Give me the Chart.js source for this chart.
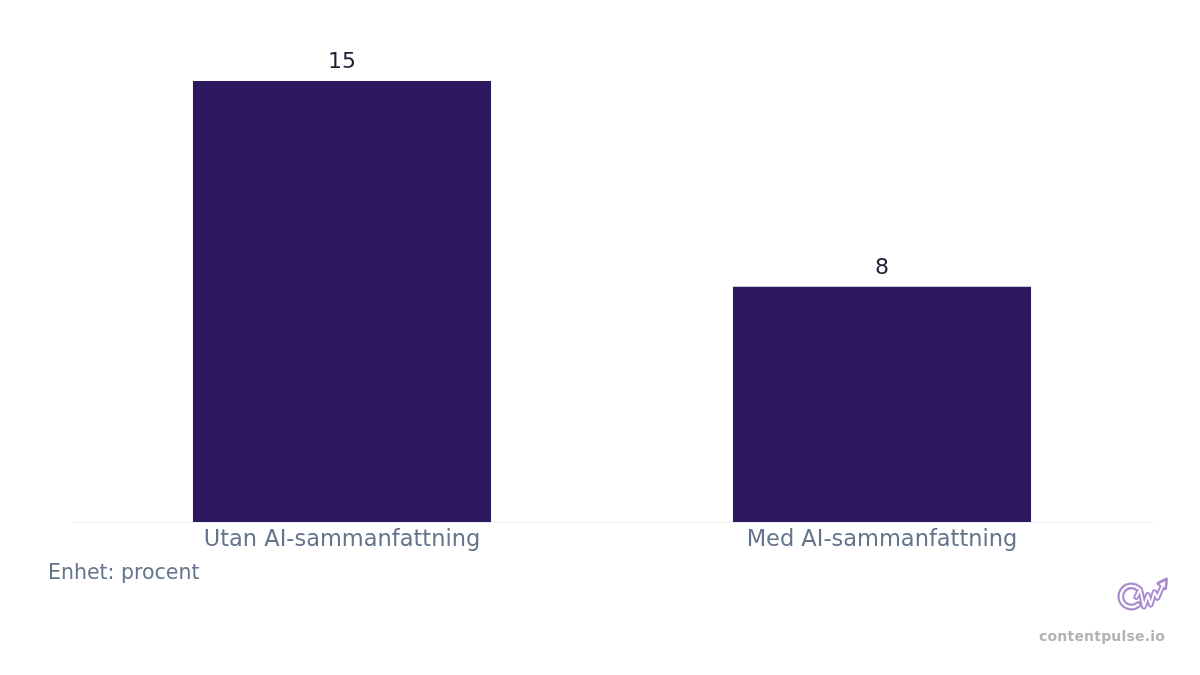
<!DOCTYPE html>
<html>
<head>
<meta charset="utf-8">
<script src="https://cdn.jsdelivr.net/npm/chart.js@4/dist/chart.umd.min.js"></script>
<style>
  html, body { margin: 0; padding: 0; background: #ffffff; }
  #wrap { position: relative; width: 1200px; height: 675px; overflow: hidden; font-family: "DejaVu Sans", sans-serif; }
  #c { position: absolute; left: 0; top: 0; }
  #unit { position: absolute; left: 48px; top: 560px; font-size: 20.5px; color: #64748b; }
  #brand { position: absolute; left: 1039px; top: 628px; font-size: 14px; font-weight: bold; color: #b3b3b3; letter-spacing: 0.2px; }
  #logo { position: absolute; left: 1115px; top: 575px; }
</style>
</head>
<body>
<div id="wrap">
  <canvas id="c" width="1200" height="675"></canvas>
  <div id="unit">Enhet: procent</div>
  <svg id="logo" width="54" height="42" viewBox="0 0 56 42">
    <g fill="none" stroke-linecap="round" stroke-linejoin="round">
      <path d="M24 13 A11 11 0 1 0 24 30" stroke="#a98bd0" stroke-width="7"/>
      <polyline points="22,22 26,14 30,32 34,20 37,30 41,17 44,23 50,9" stroke="#a98bd0" stroke-width="6"/>
      <polygon points="45,8 53,4 52,13" stroke="#a98bd0" stroke-width="4" fill="#a98bd0"/>
      <path d="M24 13 A11 11 0 1 0 24 30" stroke="#ffffff" stroke-width="2.5"/>
      <polyline points="22,22 26,14 30,32 34,20 37,30 41,17 44,23 50,9" stroke="#ffffff" stroke-width="2"/>
      <polygon points="47,8.5 51.5,6.5 51,11" stroke="#ffffff" stroke-width="1.2" fill="#ffffff"/>
    </g>
  </svg>
  <div id="brand">contentpulse.io</div>
</div>
<script>
const categories = ["Utan AI-sammanfattning", "Med AI-sammanfattning"];
const values = [15, 8];

const barLabels = {
  id: 'barLabels',
  afterDatasetsDraw(chart) {
    const ctx = chart.ctx;
    const meta = chart.getDatasetMeta(0);
    ctx.save();
    ctx.font = '22px "DejaVu Sans", sans-serif';
    ctx.fillStyle = '#1a1f36';
    ctx.textAlign = 'center';
    ctx.textBaseline = 'bottom';
    meta.data.forEach((bar, i) => {
      ctx.fillText(String(chart.data.datasets[0].data[i]), bar.x, bar.y - 8);
    });
    ctx.restore();
  }
};

new Chart(document.getElementById('c'), {
  type: 'bar',
  data: {
    labels: categories,
    datasets: [{
      data: values,
      backgroundColor: '#2e1960',
      borderWidth: 0,
      barPercentage: 0.69,
      categoryPercentage: 0.8
    }]
  },
  options: {
    responsive: false,
    animation: false,
    devicePixelRatio: 1,
    layout: { padding: { left: 72, right: 48, top: 37, bottom: 116 } },
    plugins: { legend: { display: false }, tooltip: { enabled: false } },
    scales: {
      x: {
        grid: { display: false, drawTicks: false },
        border: { display: true, color: '#eceef2', width: 1 },
        ticks: { color: '#64748b', font: { family: 'DejaVu Sans', size: 22.5 }, padding: 5 }
      },
      y: {
        display: false,
        min: 0,
        max: 16.5
      }
    }
  },
  plugins: [barLabels]
});
</script>
</body>
</html>
